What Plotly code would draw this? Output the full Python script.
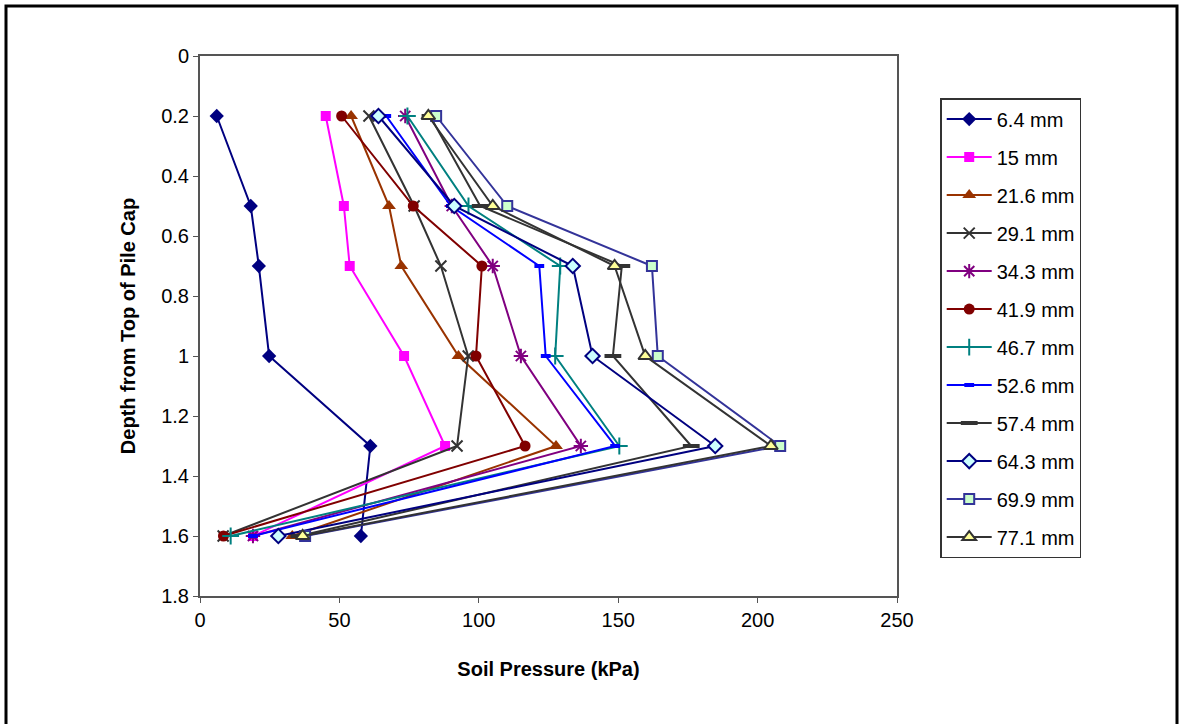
import plotly.graph_objects as go

depth = [0.2, 0.5, 0.7, 1.0, 1.3, 1.6]

names = ["6.4 mm", "15 mm", "21.6 mm", "29.1 mm", "34.3 mm", "41.9 mm",
         "46.7 mm", "52.6 mm", "57.4 mm", "64.3 mm", "69.9 mm", "77.1 mm"]

p_6_4 = [6.0, 18.2, 21.1, 24.8, 61.1, 57.7]
p_15 = [45.1, 51.6, 53.7, 73.2, 87.9, 19.0]
p_21_6 = [54.2, 67.8, 72.2, 92.7, 127.7, 33.1]
p_29_1 = [60.6, 76.8, 86.4, 96.2, 92.2, 8.3]
p_34_3 = [73.6, 90.3, 105.0, 115.1, 136.6, 19.0]
p_41_9 = [50.8, 76.5, 101.1, 99.0, 116.6, 8.4]
p_46_7 = [74.4, 96.3, 129.2, 127.4, 150.4, 11.0]
p_52_6 = [66.8, 90.0, 121.7, 124.0, 148.9, 19.0]
p_57_4 = [82.5, 100.5, 151.3, 148.1, 176.2, 35.5]
p_64_3 = [64.0, 91.2, 133.7, 140.8, 184.8, 28.1]
p_69_9 = [84.7, 110.2, 162.1, 164.2, 208.1, 37.7]
p_77_1 = [81.9, 105.0, 148.7, 159.7, 204.8, 36.8]

series = [p_6_4, p_15, p_21_6, p_29_1, p_34_3, p_41_9,
          p_46_7, p_52_6, p_57_4, p_64_3, p_69_9, p_77_1]

line_colors = ["#000080", "#FF00FF", "#993300", "#333333", "#800080", "#800000",
               "#008080", "#0000FF", "#333333", "#000080", "#333399", "#333333"]

markers = [
    dict(symbol="diamond", size=11, color="#000080", line=dict(width=0)),
    dict(symbol="square", size=10, color="#FF00FF", line=dict(width=0)),
    dict(symbol="triangle-up", size=12, color="#993300", line=dict(width=0)),
    dict(symbol="x-thin", size=11, color="#333333", line=dict(width=2, color="#333333")),
    dict(symbol="asterisk", size=12, color="#800080", line=dict(width=2, color="#800080")),
    dict(symbol="circle", size=11, color="#800000", line=dict(width=0)),
    dict(symbol="cross-thin", size=12, color="#008080", line=dict(width=2, color="#008080")),
    dict(symbol="line-ew", size=7, color="#0000FF", line=dict(width=4, color="#0000FF")),
    dict(symbol="line-ew", size=12, color="#333333", line=dict(width=4, color="#333333")),
    dict(symbol="diamond", size=11, color="#CCFFFF", line=dict(width=2, color="#000080")),
    dict(symbol="square", size=10, color="#CCFFCC", line=dict(width=2, color="#333399")),
    dict(symbol="triangle-up", size=12, color="#FFFF99", line=dict(width=2, color="#333333")),
]

fig = go.Figure()
for i, (nm, vals) in enumerate(zip(names, series)):
    fig.add_trace(go.Scatter(
        x=vals, y=depth, name=nm, mode="lines+markers",
        line=dict(color=line_colors[i], width=2),
        marker=markers[i], legendgroup=nm,
    ))

font_family = "Liberation Sans, Arial, sans-serif"

fig.update_layout(
    width=1182, height=724,
    margin=dict(l=200, r=285, t=56, b=128),
    paper_bgcolor="white", plot_bgcolor="white",
    font=dict(family=font_family, size=20, color="black"),
    showlegend=True,
    legend=dict(
        x=1.062, y=0.922, xanchor="left", yanchor="top",
        bordercolor="#333333", borderwidth=1.5, bgcolor="white",
        font=dict(size=20), tracegroupgap=9, itemwidth=45,
    ),
    xaxis=dict(
        range=[0, 250], dtick=50, tick0=0,
        showgrid=False, zeroline=False,
        showline=True, linecolor="#555555", linewidth=2, mirror=True,
        ticks="outside", ticklen=5, tickcolor="#555555",
        title=dict(text="<b>Soil Pressure (kPa)</b>", font=dict(size=20), standoff=32),
    ),
    yaxis=dict(
        range=[1.8, 0], dtick=0.2, tick0=0,
        showgrid=False, zeroline=False,
        showline=True, linecolor="#555555", linewidth=2, mirror=True,
        ticks="outside", ticklen=5, tickcolor="#555555",
        title=dict(text="<b>Depth from Top of Pile Cap</b>", font=dict(size=20), standoff=20),
    ),
    shapes=[dict(
        type="rect", xref="paper", yref="paper",
        x0=(6 - 200) / 697, x1=(1177 - 200) / 697,
        y0=(596 - 740) / 540, y1=(596 - 6) / 540,
        line=dict(color="black", width=3), fillcolor="rgba(0,0,0,0)",
        layer="below",
    )],
)

fig.write_html("out.html")
